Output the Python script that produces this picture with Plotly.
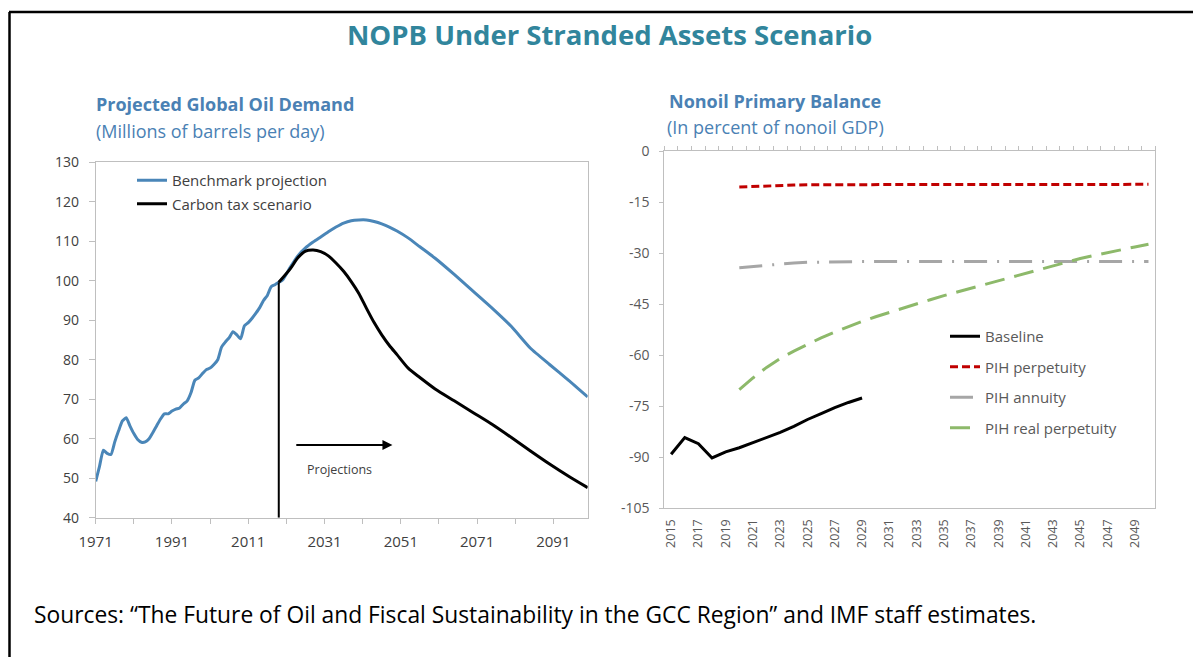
import plotly.graph_objects as go

W, H = 1193, 657

# ---------------- Projected global oil demand (millions of barrels per day)
hist_years = list(range(1971, 2020))
hist_demand = [49.2, 53.0, 57.1, 56.3, 56.0, 59.2, 62.0, 64.5, 65.3, 63.2,
               61.3, 59.8, 59.1, 59.2, 60.0, 61.6, 63.3, 65.0, 66.3, 66.3,
               67.0, 67.5, 67.8, 68.8, 69.6, 71.7, 74.8, 75.4, 76.5, 77.5,
               77.9, 78.8, 80.0, 83.2, 84.5, 85.6, 87.1, 86.3, 85.3, 88.6,
               89.4, 90.5, 91.8, 93.2, 95.0, 96.3, 98.5, 99.0, 99.6]

proj_years = [2020, 2022, 2024, 2026, 2028, 2030, 2032, 2034, 2036, 2038,
              2040, 2042, 2044, 2046, 2048, 2050, 2053, 2056, 2060, 2065,
              2070, 2075, 2080, 2085, 2090, 2095, 2100]
benchmark_proj = [100.2, 103.4, 106.3, 108.3, 109.8, 111.1, 112.4, 113.6, 114.6, 115.2,
                  115.4, 115.4, 115.0, 114.4, 113.6, 112.6, 110.8, 108.6, 105.7, 101.6,
                  97.3, 93.0, 88.4, 82.9, 78.8, 74.8, 70.6]

carbon_years = [2019, 2022, 2024, 2026, 2028, 2030, 2032, 2034, 2036, 2038,
                2040, 2042, 2044, 2046, 2048, 2050, 2053, 2056, 2060, 2065,
                2070, 2075, 2080, 2085, 2090, 2095, 2100]
carbon_tax = [99.6, 103.0, 105.8, 107.5, 107.8, 107.4, 106.3, 104.5, 102.4, 99.8,
              96.8, 93.0, 89.4, 86.3, 83.6, 81.3, 77.8, 75.5, 72.6, 69.6,
              66.6, 63.6, 60.3, 56.9, 53.6, 50.5, 47.6]

PROJECTION_START = 2019
demand_ticks = list(range(1971, 2101, 10))
demand_ticklabels = [str(y) if (y - 1971) % 20 == 0 else "" for y in demand_ticks]
demand_yticks = list(range(40, 131, 10))

# ---------------- Nonoil primary balance (percent of nonoil GDP)
balance_years = list(range(2015, 2030))
baseline = [-89.1, -84.2, -86.0, -90.2, -88.4, -87.2, -85.7, -84.2, -82.7, -80.9,
            -78.9, -77.2, -75.4, -73.9, -72.6]

pih_years = list(range(2020, 2051))
pih_perpetuity = [-10.6, -10.4, -10.2, -10.1, -10.0, -9.9, -9.9, -9.8, -9.8, -9.8,
                  -9.8, -9.8, -9.8, -9.8, -9.8, -9.8, -9.8, -9.8, -9.8, -9.8,
                  -9.8, -9.8, -9.8, -9.8, -9.8, -9.8, -9.8, -9.8, -9.8, -9.8, -9.8]
pih_annuity = [-34.3, -33.9, -33.5, -33.2, -32.9, -32.7, -32.6, -32.5, -32.5, -32.5,
               -32.5, -32.5, -32.5, -32.5, -32.5, -32.5, -32.5, -32.5, -32.5, -32.5,
               -32.5, -32.5, -32.5, -32.5, -32.5, -32.5, -32.5, -32.5, -32.5, -32.5, -32.5]
pih_real_perpetuity = [-70.1, -66.7, -63.6, -61.0, -58.8, -56.8, -54.9, -53.2, -51.6, -50.1,
                       -48.7, -47.4, -46.1, -44.9, -43.7, -42.5, -41.4, -40.3, -39.2, -38.1,
                       -37.0, -35.9, -34.8, -33.7, -32.6, -31.6, -30.7, -29.8, -29.0, -28.2, -27.4]

balance_tick_years = list(range(2015, 2050, 2))
category_edges = [y - 0.5 for y in range(2015, 2052)]
balance_yticks = list(range(-105, 1, 15))
balance_yticklabels = [str(v) for v in balance_yticks]  # plain hyphen minus

# ---------------- colours & fonts
FONT = "Open Sans"
BLUE = "#4A86B8"
TEAL = "#31859C"
SUB_BLUE = "#4A81B4"
AXIS_GREY = "#BFBFBF"
DARK = "#404040"
MID = "#595959"


def px_x(p):
    return p / W


def px_y(p):
    return (H - p) / H


fig = go.Figure()

# left panel
fig.add_trace(go.Scatter(
    x=hist_years + proj_years, y=hist_demand + benchmark_proj,
    mode="lines", line=dict(color=BLUE, width=3, shape="spline", smoothing=0.5),
    name="Benchmark projection", legend="legend", legendgroup="bench",
    xaxis="x", yaxis="y"))
fig.add_trace(go.Scatter(
    x=carbon_years, y=carbon_tax,
    mode="lines", line=dict(color="black", width=3, shape="spline", smoothing=0.7),
    name="Carbon tax scenario", legend="legend", legendgroup="carbon",
    xaxis="x", yaxis="y"))

# right panel
fig.add_trace(go.Scatter(
    x=balance_years, y=baseline, mode="lines",
    line=dict(color="black", width=3),
    name="Baseline", legend="legend2", legendgroup="base",
    xaxis="x2", yaxis="y2"))
fig.add_trace(go.Scatter(
    x=pih_years, y=pih_perpetuity, mode="lines",
    line=dict(color="#C00000", width=3, dash="8px,4px"),
    name="PIH perpetuity", legend="legend2", legendgroup="perp",
    xaxis="x2", yaxis="y2"))
fig.add_trace(go.Scatter(
    x=pih_years, y=pih_annuity, mode="lines",
    line=dict(color="#A6A6A6", width=3, dash="23px,10px,2px,10px"),
    name="PIH annuity", legend="legend2", legendgroup="ann",
    xaxis="x2", yaxis="y2"))
fig.add_trace(go.Scatter(
    x=pih_years, y=pih_real_perpetuity, mode="lines",
    line=dict(color="#8DB96A", width=3, dash="20px,10px"),
    name="PIH real perpetuity", legend="legend2", legendgroup="real",
    xaxis="x2", yaxis="y2"))
# carrier for the top category tick marks
fig.add_trace(go.Scatter(x=[], y=[], xaxis="x3", yaxis="y2", showlegend=False))

axis_common = dict(showgrid=False, zeroline=False, showline=True,
                   linecolor=AXIS_GREY, linewidth=1, mirror=True,
                   tickcolor=AXIS_GREY, tickwidth=1, automargin=False)

fig.update_layout(
    width=W, height=H,
    autosize=False,
    margin=dict(l=0, r=0, t=0, b=0, pad=0, autoexpand=False),
    paper_bgcolor="white", plot_bgcolor="white",
    font=dict(family=FONT, size=14, color=DARK),
    showlegend=True,
    xaxis=dict(domain=[px_x(95.7), px_x(587.7)], range=[1971, 2100],
               tickvals=demand_ticks, ticktext=demand_ticklabels,
               ticks="outside", ticklen=5, ticklabelstandoff=5,
               tickfont=dict(size=15, color=DARK), anchor="y", **axis_common),
    yaxis=dict(domain=[px_y(517.7), px_y(162.3)], range=[40, 130],
               tickvals=demand_yticks, ticks="outside", ticklen=6,
               ticklabelstandoff=7,
               tickfont=dict(size=14, color=DARK), anchor="x", **axis_common),
    xaxis2=dict(domain=[px_x(664.3), px_x(1155.3)], range=[2014.5, 2050.5],
                tickvals=balance_tick_years, tickangle=-90, ticks="", ticklen=0,
                ticklabelstandoff=5,
                tickfont=dict(size=12.5, color=MID), anchor="y2", **axis_common),
    xaxis3=dict(overlaying="x2", side="top", anchor="y2", range=[2014.5, 2050.5],
                tickvals=category_edges, showticklabels=False, ticks="outside",
                ticklen=4, tickcolor=AXIS_GREY, showgrid=False, zeroline=False,
                showline=False, automargin=False),
    yaxis2=dict(domain=[px_y(508.3), px_y(151)], range=[-105, 0],
                tickvals=balance_yticks, ticktext=balance_yticklabels,
                ticks="outside", ticklen=4, ticklabelstandoff=7,
                tickfont=dict(size=14, color=MID), anchor="x2", **axis_common),
    legend=dict(x=px_x(132), y=px_y(164), xanchor="left", yanchor="top",
                bgcolor="rgba(0,0,0,0)", font=dict(family=FONT, size=15, color=DARK),
                tracegroupgap=1, itemwidth=30),
    legend2=dict(x=px_x(945), y=px_y(320), xanchor="left", yanchor="top",
                 bgcolor="rgba(0,0,0,0)", font=dict(family=FONT, size=15, color=MID),
                 tracegroupgap=8, itemwidth=30),
)

# panel frame
fig.add_shape(type="line", xref="paper", yref="paper",
              x0=px_x(9), x1=px_x(1193), y0=px_y(12), y1=px_y(12),
              line=dict(color="black", width=2.5))
fig.add_shape(type="line", xref="paper", yref="paper",
              x0=px_x(9.5), x1=px_x(9.5), y0=px_y(12), y1=px_y(657),
              line=dict(color="black", width=2.5))

# start of the projection period
fig.add_shape(type="line", xref="x", yref="y",
              x0=PROJECTION_START, x1=PROJECTION_START, y0=40, y1=carbon_tax[0],
              line=dict(color="black", width=2))
fig.add_annotation(x=2048.8, y=58.4, ax=2023.2, ay=58.4, xref="x", yref="y",
                   axref="x", ayref="y", text="", showarrow=True,
                   arrowhead=2, arrowsize=1, arrowwidth=2, arrowcolor="black")
fig.add_annotation(x=2035, y=52.3, xref="x", yref="y", text="Projections",
                   showarrow=False, yanchor="middle",
                   font=dict(family=FONT, size=12.5, color=DARK))


def paper_text(x, y, text, size, color, xanchor="center"):
    fig.add_annotation(x=px_x(x), y=px_y(y), xref="paper", yref="paper",
                       xanchor=xanchor, yanchor="middle", text=text,
                       showarrow=False, font=dict(family=FONT, size=size, color=color))


# titles
paper_text(609, 34, "<b>NOPB Under Stranded Assets Scenario</b>", 27.5, TEAL)
paper_text(94, 104, "<b>Projected Global Oil Demand</b>", 18, SUB_BLUE, "left")
paper_text(94, 131, "(Millions of barrels per day)", 18, SUB_BLUE, "left")
paper_text(775, 101, "<b>Nonoil Primary Balance</b>", 18, SUB_BLUE)
paper_text(775, 127, "(In percent of nonoil GDP)", 18, SUB_BLUE)

# sources note
paper_text(32, 614,
           "Sources: \u201cThe Future of Oil and Fiscal Sustainability in the GCC Region\u201d and IMF staff estimates.",
           22.8, "black", "left")

fig.write_html("out.html")
